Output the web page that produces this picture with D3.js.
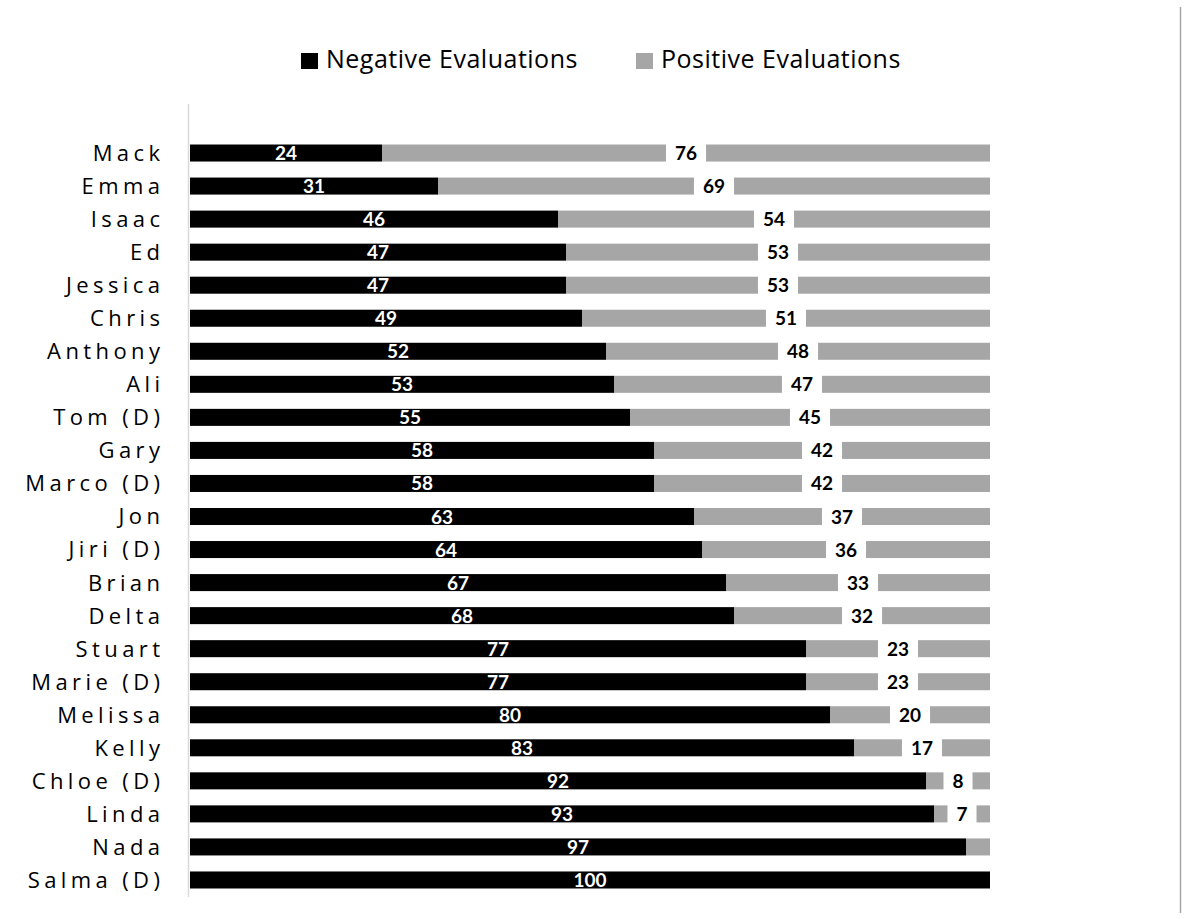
<!DOCTYPE html>
<html>
<head>
<meta charset="utf-8">
<script src="https://cdn.jsdelivr.net/npm/d3@7"></script>
<style>
  html, body { margin: 0; padding: 0; background: #fff; }
  svg { display: block; }
</style>
</head>
<body>
<svg id="chart" width="1186" height="919"></svg>
<script>
// Evaluation counts per person (share of negative vs positive, out of 100)
const names = ["Mack", "Emma", "Isaac", "Ed", "Jessica", "Chris", "Anthony", "Ali", "Tom (D)", "Gary",
  "Marco (D)", "Jon", "Jiri (D)", "Brian", "Delta", "Stuart", "Marie (D)", "Melissa", "Kelly",
  "Chloe (D)", "Linda", "Nada", "Salma (D)"];
const negative = [24, 31, 46, 47, 47, 49, 52, 53, 55, 58, 58, 63, 64, 67, 68, 77, 77, 80, 83, 92, 93, 97, 100];
const positive = [76, 69, 54, 53, 53, 51, 48, 47, 45, 42, 42, 37, 36, 33, 32, 23, 23, 20, 17, 8, 7, 3, 0];
const seriesNames = ["Negative Evaluations", "Positive Evaluations"];
const seriesColors = ["#000000", "#a6a6a6"];

const rows = names.map((n, i) => ({ name: n, neg: negative[i], pos: positive[i] }));

const svg = d3.select("#chart");
const plotLeft = 190, plotRight = 990, plotTop = 136.5, plotBottom = 896.5;

const x = d3.scaleLinear().domain([0, 100]).range([plotLeft, plotRight]);
const y = d3.scaleBand().domain(names).range([plotTop, plotBottom]).paddingInner(0.485).paddingOuter(0.2425);
const bh = y.bandwidth();

// Outer frame line at right edge
svg.append("line")
  .attr("x1", 1180.5).attr("x2", 1180.5).attr("y1", 7).attr("y2", 913)
  .attr("stroke", "#a6a6a6").attr("stroke-width", 1.5);

// Category axis line
svg.append("line")
  .attr("x1", 188.5).attr("x2", 188.5).attr("y1", 104).attr("y2", 897)
  .attr("stroke", "#d9d9d9").attr("stroke-width", 1.5);

// Category labels
const catSpacing = 4.4;
svg.append("g").selectAll("text").data(rows).join("text")
  .attr("x", 160 + catSpacing)
  .attr("y", d => y(d.name) + bh / 2)
  .attr("dy", "0.36em")
  .attr("text-anchor", "end")
  .attr("font-family", "'Open Sans', sans-serif")
  .attr("font-size", 22)
  .attr("letter-spacing", catSpacing + "px")
  .attr("fill", "#000")
  .text(d => d.name);

// Negative segments
svg.append("g").selectAll("rect").data(rows).join("rect")
  .attr("x", x(0))
  .attr("y", d => y(d.name))
  .attr("width", d => x(d.neg) - x(0))
  .attr("height", bh)
  .attr("fill", seriesColors[0]);

// Positive segments
svg.append("g").selectAll("rect").data(rows).join("rect")
  .attr("x", d => x(d.neg))
  .attr("y", d => y(d.name))
  .attr("width", d => x(d.neg + d.pos) - x(d.neg))
  .attr("height", bh)
  .attr("fill", seriesColors[1]);

const labelFont = "Lato, 'Open Sans', sans-serif";

// Negative value labels (white, centred in segment)
svg.append("g").selectAll("text").data(rows.filter(d => d.neg > 0)).join("text")
  .attr("x", d => (x(0) + x(d.neg)) / 2)
  .attr("y", d => y(d.name) + bh / 2)
  .attr("dy", "0.37em")
  .attr("text-anchor", "middle")
  .attr("font-family", labelFont)
  .attr("font-weight", 700)
  .attr("font-size", 19)
  .attr("fill", "#fff")
  .text(d => d.neg);

// Positive value labels with white backing box
const posLabels = svg.append("g").selectAll("g").data(rows.filter(d => d.pos >= 5)).join("g")
  .attr("transform", d => `translate(${(x(d.neg) + x(d.neg + d.pos)) / 2},${y(d.name) + bh / 2})`);
posLabels.append("text")
  .attr("dy", "0.37em")
  .attr("text-anchor", "middle")
  .attr("font-family", labelFont)
  .attr("font-weight", 700)
  .attr("font-size", 19)
  .attr("fill", "#000")
  .text(d => d.pos);
posLabels.each(function () {
  const g = d3.select(this);
  const w = g.select("text").node().getComputedTextLength();
  g.insert("rect", "text")
    .attr("x", -w / 2 - 9).attr("y", -bh / 2 - 2)
    .attr("width", w + 18).attr("height", bh + 4)
    .attr("fill", "#fff");
});

// Legend
const legend = svg.append("g");
const legendItems = [{ x: 301, label: seriesNames[0], color: seriesColors[0] },
                     { x: 636, label: seriesNames[1], color: seriesColors[1] }];
legendItems.forEach(it => {
  legend.append("rect").attr("x", it.x).attr("y", 53).attr("width", 17).attr("height", 16).attr("fill", it.color);
  legend.append("text")
    .attr("x", it.x + 25).attr("y", 68)
    .attr("font-family", "'Open Sans', sans-serif")
    .attr("font-size", 25)
    .attr("letter-spacing", "0.5px")
    .attr("fill", "#000")
    .text(it.label);
});
</script>
</body>
</html>
